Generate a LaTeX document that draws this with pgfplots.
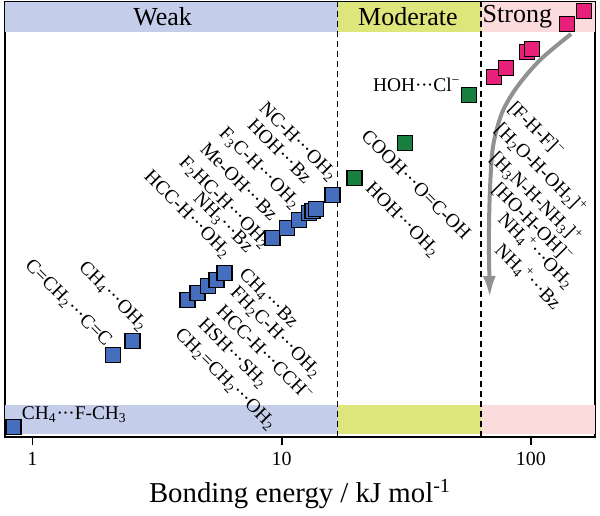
\documentclass[border=0pt]{standalone}
\usepackage{fontspec}
\setmainfont{Liberation Serif}
\usepackage{pgfplots}
\pgfplotsset{compat=1.18}
\usetikzlibrary{arrows.meta}
\definecolor{weakband}{RGB}{196,206,234}
\definecolor{modband}{RGB}{220,230,122}
\definecolor{strongband}{RGB}{251,219,219}
\definecolor{bluesq}{RGB}{70,110,190}
\definecolor{greensq}{RGB}{24,128,62}
\definecolor{pinksq}{RGB}{232,32,122}
\newcommand{\lbl}{\fontsize{9.7}{12}\selectfont}
\newcommand{\sbb}[1]{\textsubscript{#1}}
\newcommand{\spp}[1]{\textsuperscript{#1}}
\newcommand{\dd}{·\kern-0.03em·\kern-0.03em·}
\tikzset{lbl/.style={font=\lbl, rotate=-45, anchor=west, inner sep=0pt}}
\begin{document}
\begin{tikzpicture}
\begin{axis}[
  scale only axis, width=295pt, height=217.5pt,
  xmode=log, log basis x=10,
  xmin=0.776, xmax=180.7, ymin=0, ymax=435,
  ytick=\empty,
  xtick={1,10,100}, xticklabels={1,10,100},
  xtick pos=bottom, tick align=outside,
  major tick length=4pt, minor tick length=2.5pt,
  every tick/.style={black, line width=0.8pt},
  axis line style={line width=1pt},
  tick label style={font=\fontsize{10}{12}\selectfont},
  xlabel={Bonding energy / kJ mol\textsuperscript{-1}},
  xlabel style={font=\fontsize{14.4}{17}\selectfont},
  clip=false,
]
% bands
\fill[weakband] (axis cs:0.776,405) rectangle (axis cs:16.8,434.5);
\fill[modband] (axis cs:16.8,405) rectangle (axis cs:63,434.5);
\fill[strongband] (axis cs:63,405) rectangle (axis cs:180.7,434.5);
\fill[weakband] (axis cs:0.776,3) rectangle (axis cs:16.8,32);
\fill[modband] (axis cs:16.8,3) rectangle (axis cs:63,32);
\fill[strongband] (axis cs:63,3) rectangle (axis cs:180.7,32);
% dashed lines
\draw[black, line width=0.6pt, dash pattern=on 3pt off 2pt] (axis cs:16.8,0) -- (axis cs:16.8,435);
\draw[black, line width=0.6pt, dash pattern=on 3pt off 2pt] (axis cs:63,0) -- (axis cs:63,435);
% band titles
\node[font=\fontsize{13}{15}\selectfont] at (axis cs:3.33,420) {Weak};
\node[font=\fontsize{13}{15}\selectfont] at (axis cs:32.1,420) {Moderate};
\node[font=\fontsize{13}{15}\selectfont, anchor=west, inner sep=0pt] at (axis cs:63.8,420) {Strong};
% arrow
\addplot[smooth, color={rgb,255:red,145;green,145;blue,145}, line width=2pt, -{Latex[length=11pt,width=6.5pt]}]
 coordinates {(144.8,403) (108.7,377) (87.9,350) (76.5,324) (70.4,290) (68.4,244) (67.8,194) (68.4,139)};
% markers
\addplot[only marks, mark=square*, mark size=3.75pt, mark options={fill=bluesq, draw=black, line width=0.7pt}]
 coordinates {(0.839,10) (2.10,82) (2.52,96)
 (4.19,137) (4.60,144) (5.05,151) (5.48,157) (5.90,164)
 (9.20,199) (10.5,209) (11.7,217) (12.9,224) (13.3,226) (13.7,228) (16.0,242)};
\addplot[only marks, mark=square*, mark size=3.75pt, mark options={fill=greensq, draw=black, line width=0.7pt}]
 coordinates {(19.6,259) (31.2,294) (56.4,342)};
\addplot[only marks, mark=square*, mark size=3.75pt, mark options={fill=pinksq, draw=black, line width=0.7pt}]
 coordinates {(71.1,360) (79.5,369) (96.4,385) (101,388) (139.5,413) (163,426)};
% labels upper cluster
\node[lbl] at (axis cs:8.31,331) {NC-H\dd OH\sbb{2}};
\node[lbl] at (axis cs:7.51,315) {HOH\dd Bz};
\node[lbl] at (axis cs:5.74,306) {F\sbb{3}C-H\dd OH\sbb{2}};
\node[lbl] at (axis cs:4.86,291) {Me-OH\dd Bz};
\node[lbl] at (axis cs:3.97,277) {F\sbb{2}HC-H\dd OH\sbb{2}};
\node[lbl] at (axis cs:4.52,241) {NH\sbb{3}\dd Bz};
\node[lbl] at (axis cs:2.87,263) {HCC-H\dd OH\sbb{2}};
% lower cluster
\node[lbl] at (axis cs:6.91,165) {CH\sbb{4}\dd Bz};
\node[lbl] at (axis cs:6.36,147) {FH\sbb{2}C-H\dd OH\sbb{2}};
\node[lbl] at (axis cs:5.64,129) {HCC-H\dd CCH\spp{−}};
\node[lbl] at (axis cs:4.73,115) {HSH\dd SH\sbb{2}};
\node[lbl] at (axis cs:3.82,105) {CH\sbb{2}=CH\sbb{2}\dd OH\sbb{2}};
% left
\node[lbl] at (axis cs:1.57,172) {CH\sbb{4}\dd OH\sbb{2}};
\node[lbl] at (axis cs:0.955,174) {C=CH\sbb{2}\dd C=C};
\node[font=\lbl, anchor=west, inner sep=0pt] at (axis cs:0.903,22) {CH\sbb{4}\dd F-CH\sbb{3}};
% green
\node[font=\lbl, anchor=east, inner sep=0pt] at (axis cs:52.3,352) {HOH\dd Cl\spp{−}};
\node[lbl] at (axis cs:21.5,304) {COOH\dd O=C-OH};
\node[lbl] at (axis cs:22.2,251) {HOH\dd OH\sbb{2}};
% pink
\node[lbl] at (axis cs:83.1,332) {[F-H-F]\spp{−}};
\node[lbl] at (axis cs:73.7,311) {[H\sbb{2}O-H-OH\sbb{2}]\spp{+}};
\node[lbl] at (axis cs:70.4,282) {[H\sbb{3}N-H-NH\sbb{3}]\spp{+}};
\node[lbl] at (axis cs:71.7,251) {[HO-H-OH]\spp{−}};
\node[lbl] at (axis cs:75.8,221) {NH\sbb{4}\spp{+}\dd OH\sbb{2}};
\node[lbl] at (axis cs:73.7,190) {NH\sbb{4}\spp{+}\dd Bz};
\end{axis}
\path ([xshift=-2.5pt]current axis.south west) ([xshift=2.5pt,yshift=1pt]current axis.north east);
\end{tikzpicture}
\end{document}
